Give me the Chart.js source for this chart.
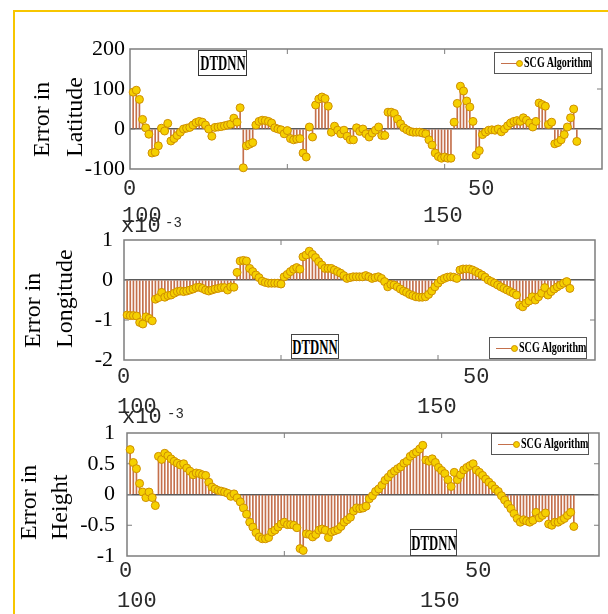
<!DOCTYPE html>
<html>
<head>
<meta charset="utf-8">
<title>SCG Algorithm errors</title>
<script src="https://cdn.jsdelivr.net/npm/chart.js@4.4.1/dist/chart.umd.min.js"></script>
<style>
  body { margin: 0; background: #fff; }
  #fig { position: relative; width: 608px; height: 614px; overflow: hidden; background: #fff; }
  #fig canvas { position: absolute; left: 0; top: 0; }
  .frameL { position: absolute; left: 13px; top: 10px; width: 2px; height: 604px; background: #f7c600; }
  .frameT { position: absolute; left: 13px; top: 10px; width: 595px; height: 2px; background: #f7c600; }
  .xt { position: absolute; font-family: "Liberation Mono", monospace; font-size: 22px; line-height: 22px; color: #2a2a2a; white-space: nowrap; }
  .sup { position: absolute; font-family: "Liberation Mono", monospace; font-size: 14px; line-height: 14px; color: #2a2a2a; }
  .yl { position: absolute; font-family: "Liberation Serif", serif; font-size: 24px; line-height: 24px; color: #000;
        white-space: nowrap; transform-origin: 0 0; transform: rotate(-90deg); }
  .leg { position: absolute; width: 98px; height: 22px; border: 1px solid #555; background: #fff; box-sizing: border-box; }
  .leg .ln { position: absolute; left: 6px; top: 10px; width: 20px; height: 1px; background: #c4704c; }
  .leg .mk { position: absolute; left: 21px; top: 7px; width: 7px; height: 7px; border-radius: 50%;
             background: #f5d000; border: 1px solid #cf8f00; box-sizing: border-box; }
  .leg .lt { position: absolute; left: 29px; top: 1px; font: bold 14px/18px "Liberation Serif", serif; color: #000;
             white-space: nowrap; transform: scaleX(0.72); transform-origin: 0 50%; }
  .dt { position: absolute; border: 1px solid #444; background: #fff; box-sizing: border-box; }
  .dt span { position: absolute; left: 50%; top: 50%; font: bold 22px/22px "Liberation Serif", serif; color: #000;
             white-space: nowrap; transform: translate(-50%, -50%) scaleX(0.58); }
</style>
</head>
<body>
<div id="fig">
  <canvas id="latChart" width="608" height="614"></canvas>
  <canvas id="lonChart" width="608" height="614"></canvas>
  <canvas id="hgtChart" width="608" height="614"></canvas>

  <div class="frameL"></div>
  <div class="frameT"></div>

  <!-- y axis titles -->
  <div class="yl" style="left:29px; top:157px;">Error in</div>
  <div class="yl" style="left:62px; top:157px;">Latitude</div>
  <div class="yl" style="left:20px; top:348px;">Error in</div>
  <div class="yl" style="left:52px; top:348px;">Longitude</div>
  <div class="yl" style="left:16px; top:540px;">Error in</div>
  <div class="yl" style="left:47px; top:540px;">Height</div>

  <!-- x tick labels, as they sit in the source figure -->
  <div class="xt" style="left:123px; top:179px;">0</div>
  <div class="xt" style="left:468px; top:179px;">50</div>
  <div class="xt" style="left:122px; top:206px;">100</div>
  <div class="xt" style="left:423px; top:206px;">150</div>
  <div class="xt" style="left:121px; top:216px;">x10</div>
  <div class="sup" style="left:165px; top:216px;">-3</div>

  <div class="xt" style="left:117px; top:367px;">0</div>
  <div class="xt" style="left:463px; top:367px;">50</div>
  <div class="xt" style="left:117px; top:397px;">100</div>
  <div class="xt" style="left:417px; top:397px;">150</div>
  <div class="xt" style="left:122px; top:407px;">x10</div>
  <div class="sup" style="left:167px; top:407px;">-3</div>

  <div class="xt" style="left:119px; top:561px;">0</div>
  <div class="xt" style="left:465px; top:561px;">50</div>
  <div class="xt" style="left:117px; top:591px;">100</div>
  <div class="xt" style="left:420px; top:591px;">150</div>

  <!-- legends -->
  <div class="leg" style="left:494px; top:52px;"><span class="ln"></span><span class="mk"></span><span class="lt">SCG Algorithm</span></div>
  <div class="leg" style="left:489px; top:337px;"><span class="ln"></span><span class="mk"></span><span class="lt">SCG Algorithm</span></div>
  <div class="leg" style="left:491px; top:433px;"><span class="ln"></span><span class="mk"></span><span class="lt">SCG Algorithm</span></div>

  <!-- DTDNN boxes -->
  <div class="dt" style="left:198px; top:50px; width:49px; height:26px; border:1.5px solid #333;"><span>DTDNN</span></div>
  <div class="dt" style="left:291px; top:334px; width:48px; height:25px;"><span>DTDNN</span></div>
  <div class="dt" style="left:410px; top:529px; width:47px; height:27px;"><span>DTDNN</span></div>
</div>

<script>
// sample index (x axis)
const sampleIdx = [];
for (let i = 1; i <= 142; i++) sampleIdx.push(i);

// error in latitude
const latErr = [92, 97, 74, 24, 3, -13, -60, -58, -42, 2,
  -5, 14, -30, -24, -16, -8, 0, 2, 4, 10,
  16, 19, 17, 10, 0, -18, 4, 5, 6, 8,
  10, 12, 27, 17, 53, -97, -42, -38, -34, 10,
  19, 22, 21, 19, 15, 3, 0, -2, -12, -4,
  -24, -27, -25, -24, -60, -70, 5, -20, 60, 75,
  80, 76, 57, -8, 7, -3, -12, -3, -18, -27,
  -27, 3, -6, 0, -12, -20, -10, -3, 5, -16,
  -16, 42, 42, 39, 25, 13, 3, -2, -6, -8,
  -8, -8, -10, -12, -27, -40, -60, -69, -73, -70,
  -73, -73, 17, 64, 107, 95, 70, 55, 19, -65,
  -54, -14, -8, -3, -2, -3, 0, -7, 0, 8,
  15, 19, 21, 19, 28, 22, 15, 5, 19, 65,
  61, 57, 11, 17, -37, -34, -27, -14, 5, 28,
  50, -31];

// error in longitude (x10^-3)
const lonErr = [-0.875, -0.89, -0.89, -0.9, -1.06, -1.1, -0.92, -0.96, -1.02, -0.48,
  -0.44, -0.31, -0.43, -0.39, -0.375, -0.33, -0.29, -0.275, -0.29, -0.275,
  -0.25, -0.225, -0.19, -0.18, -0.21, -0.25, -0.275, -0.25, -0.225, -0.21,
  -0.19, -0.19, -0.25, -0.17, -0.18, 0.19, 0.475, 0.49, 0.475, 0.29,
  0.21, 0.125, 0.06, -0.03, -0.06, -0.08, -0.08, -0.08, -0.08, -0.1,
  0.08, 0.14, 0.21, 0.27, 0.31, 0.27, 0.58, 0.625, 0.72, 0.64,
  0.56, 0.46, 0.375, 0.29, 0.29, 0.29, 0.25, 0.21, 0.17, 0.11,
  0.04, 0.06, 0.08, 0.08, 0.08, 0.08, 0.11, 0.08, 0.04, 0.06,
  0.08, 0.04, -0.04, -0.17, -0.11, -0.125, -0.17, -0.225, -0.275, -0.31,
  -0.36, -0.39, -0.42, -0.43, -0.43, -0.42, -0.36, -0.275, -0.17, -0.08,
  0, 0.04, 0.07, 0.08, 0.07, 0.04, 0.25, 0.275, 0.275, 0.275,
  0.25, 0.21, 0.17, 0.125, 0.07, 0, -0.04, -0.08, -0.125, -0.17,
  -0.21, -0.25, -0.29, -0.33, -0.375, -0.625, -0.67, -0.58, -0.525, -0.42,
  -0.5, -0.42, -0.33, -0.19, -0.375, -0.29, -0.225, -0.17, -0.125, -0.08,
  -0.04, -0.21];

// error in height (x10^-3)
const hgtErr = [0.73, 0.52, 0.42, 0.18, 0.04, -0.05, 0.04, -0.05, -0.18, 0.62,
  0.57, 0.67, 0.63, 0.58, 0.54, 0.51, 0.48, 0.5, 0.43, 0.38,
  0.32, 0.35, 0.34, 0.32, 0.31, 0.2, 0.12, 0.09, 0.065, 0.054,
  0.04, 0.02, -0.03, 0.01, -0.054, -0.12, -0.22, -0.32, -0.45, -0.53,
  -0.62, -0.69, -0.72, -0.72, -0.7, -0.61, -0.58, -0.53, -0.48, -0.45,
  -0.49, -0.49, -0.5, -0.54, -0.88, -0.91, -0.64, -0.65, -0.69, -0.65,
  -0.58, -0.56, -0.58, -0.7, -0.61, -0.59, -0.57, -0.52, -0.45, -0.41,
  -0.37, -0.27, -0.22, -0.23, -0.22, -0.19, -0.07, -0.02, 0.05, 0.09,
  0.15, 0.23, 0.28, 0.34, 0.38, 0.42, 0.45, 0.51, 0.54, 0.62,
  0.66, 0.69, 0.74, 0.8, 0.56, 0.54, 0.58, 0.52, 0.44, 0.39,
  0.34, 0.24, 0.13, 0.36, 0.24, 0.32, 0.4, 0.44, 0.47, 0.5,
  0.4, 0.36, 0.31, 0.25, 0.2, 0.15, 0.09, 0.05, -0.02, -0.09,
  -0.16, -0.23, -0.31, -0.39, -0.45, -0.41, -0.43, -0.45, -0.42, -0.29,
  -0.38, -0.34, -0.3, -0.48, -0.5, -0.45, -0.45, -0.42, -0.39, -0.34,
  -0.29, -0.52];

const xTicks = [0, 50, 100, 150];
const STEM = '#c4704c';

// box round the axes + inward tick marks (matlab style)
const boxPlugin = {
  id: 'box',
  beforeDatasetsDraw(chart) {
    const { ctx, chartArea: a, scales } = chart;
    const x = scales.x, y = scales.y;
    ctx.save();
    ctx.strokeStyle = '#7d7d7d';
    ctx.lineWidth = 1.5;
    ctx.strokeRect(a.left, a.top, a.right - a.left, a.bottom - a.top);
    ctx.lineWidth = 1;
    ctx.beginPath();
    xTicks.slice(1, -1).forEach(v => {
      const px = x.getPixelForValue(v);
      ctx.moveTo(px, a.top); ctx.lineTo(px, a.top + 5);
      ctx.moveTo(px, a.bottom); ctx.lineTo(px, a.bottom - 5);
    });
    y.ticks.forEach(t => {
      if (t.value === y.min || t.value === y.max) return;
      const py = y.getPixelForValue(t.value);
      ctx.moveTo(a.left, py); ctx.lineTo(a.left + 5, py);
      ctx.moveTo(a.right, py); ctx.lineTo(a.right - 5, py);
    });
    ctx.stroke();
    ctx.restore();
  }
};

function stemChart(id, vals, area, yMin, yMax, yStep, tickPad) {
  const pts = sampleIdx.map((x, i) => ({ x: x, y: vals[i] }));
  return new Chart(document.getElementById(id), {
    type: 'bar',
    data: {
      datasets: [
        {
          type: 'scatter', label: 'SCG Algorithm', data: pts, showLine: false,
          pointRadius: 4, pointBackgroundColor: '#f5d000', pointBorderColor: '#cf8f00',
          pointBorderWidth: 1, clip: false, order: 0
        },
        {
          type: 'bar', data: pts, backgroundColor: STEM, borderWidth: 0,
          barThickness: 1, clip: false, order: 1
        }
      ]
    },
    options: {
      responsive: false,
      animation: false,
      events: [],
      layout: { padding: { left: 0, top: area.top, right: 608 - area.right, bottom: 614 - area.bottom } },
      plugins: { legend: { display: false }, tooltip: { enabled: false } },
      scales: {
        x: {
          type: 'linear', min: 0, max: 150, offset: false,
          ticks: { display: false, stepSize: 50 },
          grid: { display: false, drawTicks: false },
          border: { display: false },
          afterFit: s => { s.height = 0; }
        },
        y: {
          min: yMin, max: yMax,
          ticks: {
            stepSize: yStep, padding: tickPad, color: '#000',
            font: { family: '"Liberation Serif", "Times New Roman", serif', size: 22 },
            callback: v => String(v)
          },
          grid: {
            drawTicks: false, lineWidth: 1.5,
            color: c => (c.tick && c.tick.value === 0) ? '#5a5a5a' : 'rgba(0,0,0,0)'
          },
          border: { display: false },
          afterFit: s => { s.width = area.left; }
        }
      }
    },
    plugins: [boxPlugin]
  });
}

stemChart('latChart', latErr, { left: 130, right: 602, top: 49, bottom: 169 }, -100, 200, 100, 5);
stemChart('lonChart', lonErr, { left: 124, right: 595, top: 240, bottom: 360 }, -2, 1, 1, 11);
stemChart('hgtChart', hgtErr, { left: 127, right: 599, top: 433, bottom: 556 }, -1, 1, 0.5, 12);
</script>
</body>
</html>
